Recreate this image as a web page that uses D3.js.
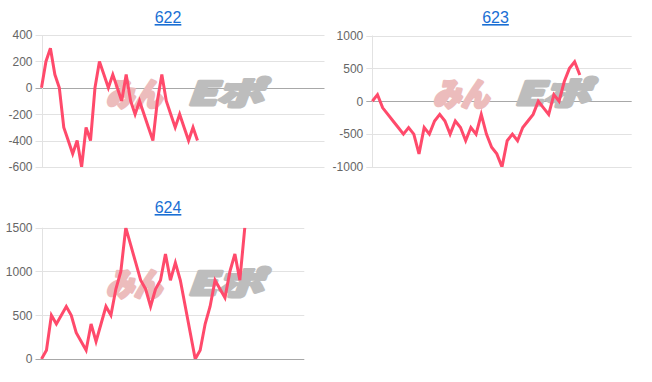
<!DOCTYPE html>
<html><head><meta charset="utf-8">
<script src="https://cdn.jsdelivr.net/npm/d3@7"></script>
<style>
html,body{margin:0;padding:0;background:#fff;}
svg{display:block;font-family:"Liberation Sans",Arial,sans-serif;}
</style></head>
<body>
<svg id="c" width="652" height="382"></svg>
<script>
const titles = ["622", "623", "624"];
const series622 = [0,200,300,100,0,-300,-400,-500,-400,-600,-300,-400,0,200,100,0,100,0,-100,100,-100,-200,-100,-200,-300,-400,-100,100,-100,-200,-300,-200,-300,-400,-300,-400];
const series623 = [0,100,-100,-200,-300,-400,-500,-400,-500,-800,-400,-500,-300,-200,-300,-500,-300,-400,-600,-400,-500,-200,-500,-700,-800,-1000,-600,-500,-600,-400,-300,-200,0,-100,-200,100,0,300,500,600,400];
const series624 = [0,100,500,400,500,600,500,300,200,100,400,200,400,600,500,800,1000,1500,1300,1100,900,800,600,800,900,1200,900,1100,900,600,300,0,100,400,600,900,800,700,1000,1200,900,1500];
const ticks622 = [-600,-400,-200,0,200,400];
const ticks623 = [-1000,-500,0,500,1000];
const ticks624 = [0,500,1000,1500];
const xSlots = [63.5, 50, 53];

const panels = [
  {title: titles[0], data: series622, ticks: ticks622, slots: xSlots[0],
   x0: 41.5, x1: 324.5, yTop: 35, yBot: 167, tx: 168, ty: 23, wx: 106, wy: 106},
  {title: titles[1], data: series623, ticks: ticks623, slots: xSlots[1],
   x0: 372.3, x1: 631.7, yTop: 35.5, yBot: 167, tx: 495.5, ty: 23, wx: 433, wy: 106},
  {title: titles[2], data: series624, ticks: ticks624, slots: xSlots[2],
   x0: 41.5, x1: 304.3, yTop: 227.7, yBot: 359, tx: 168, ty: 213, wx: 106, wy: 296}
];

const svg = d3.select("#c");

panels.forEach((p, k) => {
  const g = svg.append("g");
  const x = d3.scaleLinear().domain([0, p.slots]).range([p.x0, p.x1]);
  const y = d3.scaleLinear().domain(d3.extent(p.ticks)).range([p.yBot, p.yTop]);

  // title
  g.append("text").attr("x", p.tx).attr("y", p.ty)
    .attr("text-anchor", "middle").attr("font-size", 16)
    .attr("fill", "#1a6fd4").attr("text-decoration", "underline")
    .text(p.title);

  // gridlines
  g.selectAll("line.grid").data(p.ticks).enter().append("line")
    .attr("x1", p.x0 - 6).attr("x2", p.x1)
    .attr("y1", d => Math.round(y(d)) + 0.5).attr("y2", d => Math.round(y(d)) + 0.5)
    .attr("stroke", d => d === 0 ? "#a8a8a8" : "#e2e2e2").attr("stroke-width", 1);

  // left axis line
  g.append("line").attr("x1", Math.round(p.x0) + 0.5).attr("x2", Math.round(p.x0) + 0.5)
    .attr("y1", p.yTop).attr("y2", p.yBot).attr("stroke", "#e2e2e2");

  // tick labels
  const axis = d3.axisLeft(y).tickValues(p.ticks).tickSize(0).tickPadding(0)
    .tickFormat(d => String(d));
  const ag = g.append("g").attr("transform", `translate(${p.x0 - 9},0)`).call(axis);
  ag.select(".domain").remove();
  ag.selectAll("text").attr("font-size", 12).attr("fill", "#666")
    .attr("font-family", "'Liberation Sans',Arial,sans-serif");

  // watermark
  const wm = g.append("g").attr("transform", `translate(${p.wx},${p.wy})`);
  wm.append("text").attr("x", 0).attr("y", 0).attr("font-size", 32)
    .attr("font-family", "'Noto Sans CJK JP',sans-serif")
    .attr("font-weight", 900).attr("font-style", "italic")
    .attr("fill", "#ecbcbc").attr("stroke", "#ecbcbc").attr("stroke-width", 3)
    .attr("stroke-linejoin", "round")
    .attr("textLength", 56).attr("lengthAdjust", "spacingAndGlyphs")
    .text("みん");
  wm.append("text").attr("x", 81).attr("y", -1).attr("font-size", 32)
    .attr("font-family", "'Noto Sans CJK JP',sans-serif")
    .attr("font-weight", 900).attr("font-style", "italic")
    .attr("fill", "#bdbdbd").attr("stroke", "#bdbdbd").attr("stroke-width", 3)
    .attr("stroke-linejoin", "round")
    .attr("textLength", 76).attr("lengthAdjust", "spacingAndGlyphs")
    .text("Eポ");

  // line
  const clipId = "clip" + k;
  svg.append("clipPath").attr("id", clipId).append("rect")
    .attr("x", p.x0 - 3).attr("y", p.yTop).attr("width", p.x1 - p.x0 + 6).attr("height", p.yBot - p.yTop);
  g.append("path").datum(p.data)
    .attr("clip-path", `url(#${clipId})`)
    .attr("fill", "none").attr("stroke", "#ff4a6b").attr("stroke-width", 3)
    .attr("stroke-linejoin", "miter")
    .attr("d", d3.line().x((d, i) => x(i)).y(d => y(d)));
});
</script>
</body></html>
